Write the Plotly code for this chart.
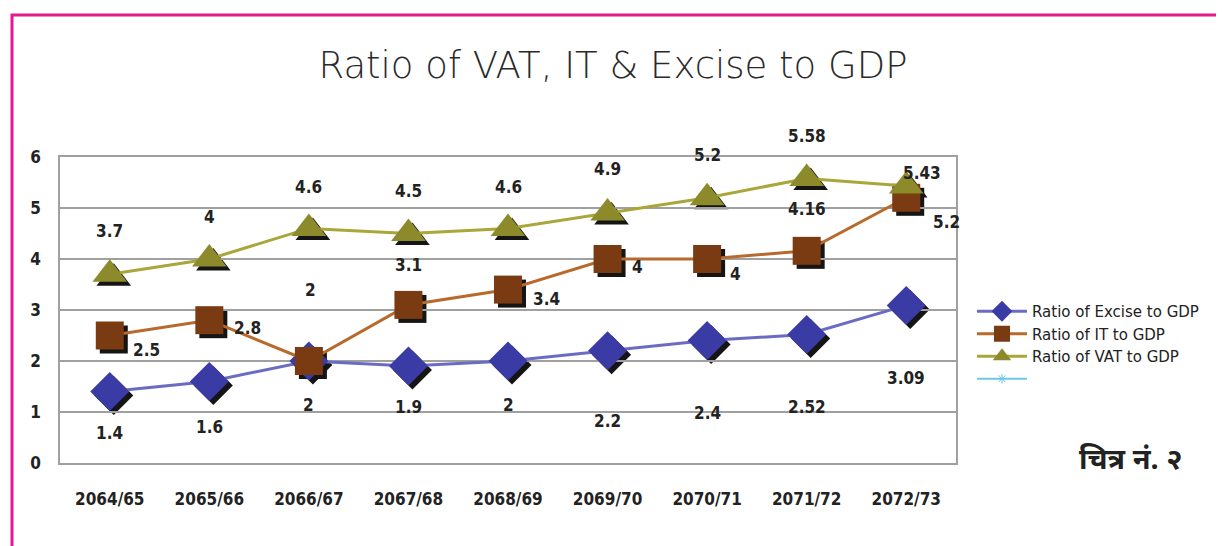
import plotly.graph_objects as go

categories = ["2064/65", "2065/66", "2066/67", "2067/68", "2068/69",
              "2069/70", "2070/71", "2071/72", "2072/73"]
excise = [1.4, 1.6, 2, 1.9, 2, 2.2, 2.4, 2.52, 3.09]
income_tax = [2.5, 2.8, 2, 3.1, 3.4, 4, 4, 4.16, 5.2]
vat = [3.7, 4, 4.6, 4.5, 4.6, 4.9, 5.2, 5.58, 5.43]
series_names = ["Ratio of Excise to GDP", "Ratio of IT to GDP", "Ratio of VAT to GDP"]
y_ticks = [0, 1, 2, 3, 4, 5, 6]

# label offsets (pixels) for data labels
excise_off = [(0, -41), (0, -46), (0, -44), (0, -41), (0, -44), (0, -70), (0, -72), (0, -73), (0, -73)]
it_off = [(37, -14), (38, -8), (2, 71), (0, 40), (38, -9), (30, -8), (28, -15), (0, 42), (40, -24)]
vat_off = [(0, 43), (0, 42), (0, 41), (0, 43), (0, 41), (0, 44), (0, 43), (0, 42), (16, 13)]

W, H = 1224, 546
OFF = 8  # page body margin
ML, MT = 60 - OFF, 157 - OFF
MR = W + OFF - 960
MB = H + OFF - 467
PW, PH = W - ML - MR, H - MT - MB


def px_x(px):
    return (px - OFF - ML) / PW


def px_y(py):
    return (MT + PH - (py - OFF)) / PH


SH = 4  # shadow offset px

line_colors = ["#6b6bc4", "#b8692c", "#aaa63a"]
marker_colors = ["#3b3ba6", "#7a3a12", "#8c8a2a"]
symbols = ["diamond", "square", "triangle-up"]
sizes = [30, 28, 30]

fig = go.Figure()

datasets = [excise, income_tax, vat]
for d, sym, sz in zip(datasets, symbols, sizes):
    fig.add_trace(go.Scatter(x=categories, y=d, mode="markers",
                             marker=dict(symbol=sym, size=sz, color="#151515"),
                             xaxis="x", yaxis="y", showlegend=False, hoverinfo="skip"))

for d, name, lc, mc, sym, sz in zip(datasets, series_names, line_colors, marker_colors, symbols, sizes):
    fig.add_trace(go.Scatter(x=categories, y=d, mode="lines+markers", name=name,
                             line=dict(color=lc, width=3),
                             marker=dict(symbol=sym, size=sz, color=mc, line=dict(width=0)),
                             xaxis="x2", yaxis="y2"))

fig.add_trace(go.Scatter(x=[None], y=[None], mode="lines+markers", name=" ",
                         line=dict(color="#6cc8e6", width=2),
                         marker=dict(symbol="asterisk-open", size=8, color="#6cc8e6"),
                         xaxis="x2", yaxis="y2"))

label_font = dict(family="DejaVu Sans Condensed, DejaVu Sans", size=17, color="#222222", weight="bold")
annotations = []
for d, offs in zip(datasets, [excise_off, it_off, vat_off]):
    for c, v, (dx, dy) in zip(categories, d, offs):
        annotations.append(dict(x=c, y=v, xref="x2", yref="y2", text=str(v),
                                showarrow=False, xshift=dx, yshift=dy, font=label_font))

annotations.append(dict(x=px_x(1130), y=px_y(457), xref="paper", yref="paper",
                        xanchor="center", yanchor="middle",
                        text="<b>चित्र नं. २</b>", showarrow=False,
                        font=dict(family="Noto Sans, sans-serif", size=29, color="#222222")))

tick_font = dict(family="DejaVu Sans Condensed, DejaVu Sans", size=17, color="#222222", weight="bold")
axis_common = dict(range=[-0.5, 8.5], type="category")
fig.update_layout(
    width=W, height=H,
    margin=dict(l=ML, r=MR, t=MT, b=MB),
    paper_bgcolor="white", plot_bgcolor="rgba(0,0,0,0)",
    title=dict(text="Ratio of VAT, IT & Excise to GDP", x=(613 - OFF) / W, xref="container",
               xanchor="center", y=1 - (65 - OFF) / H, yref="container", yanchor="middle",
               font=dict(family="DejaVu Sans, sans-serif", size=37, color="#2a2a2a", weight=200)),
    xaxis=dict(domain=[SH / PW, 1], anchor="y", visible=False, **axis_common),
    yaxis=dict(domain=[0, (PH - SH) / PH], anchor="x", visible=False, range=[0, 6]),
    xaxis2=dict(domain=[0, (PW - SH) / PW], anchor="y2", showgrid=False,
                showline=True, linecolor="#a0a0a0", linewidth=1.5, mirror=True,
                ticks="", ticklabelstandoff=20, tickfont=tick_font, **axis_common),
    yaxis2=dict(domain=[SH / PH, 1], anchor="x2", range=[0, 6], tickvals=y_ticks,
                showgrid=True, gridcolor="#a0a0a0", gridwidth=1.5,
                showline=True, linecolor="#a0a0a0", linewidth=1.5, mirror=True,
                zeroline=False, ticks="", ticklabelstandoff=14, tickfont=tick_font),
    legend=dict(x=px_x(972), y=px_y(295), xanchor="left", yanchor="top",
                bgcolor="rgba(0,0,0,0)", tracegroupgap=0, itemwidth=50,
                font=dict(family="DejaVu Sans", size=15, color="#222222")),
    annotations=annotations,
    shapes=[
        dict(type="rect", xref="paper", yref="paper",
             x0=px_x(12), x1=1.6, y0=-0.5, y1=px_y(15),
             line=dict(color="#e6198c", width=3), layer="below"),
        dict(type="line", xref="paper", yref="paper",
             x0=px_x(3), x1=px_x(3), y0=-0.5, y1=px_y(120),
             line=dict(color="#b0b0b0", width=2)),
    ],
    showlegend=True,
)

fig.write_html("out.html")
